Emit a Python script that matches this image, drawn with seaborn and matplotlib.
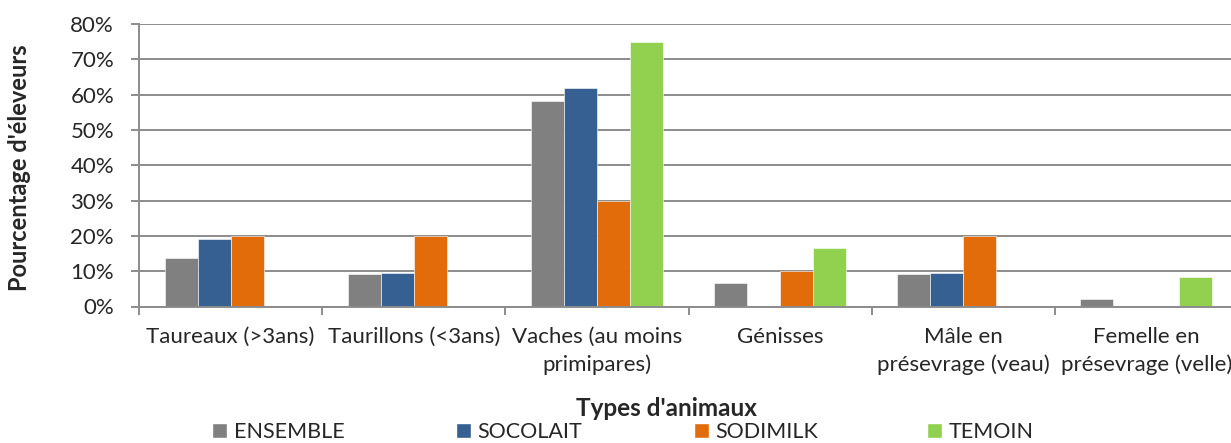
import matplotlib
matplotlib.use("Agg")
import matplotlib.pyplot as plt
import seaborn as sns
import pandas as pd
from matplotlib.ticker import PercentFormatter, FixedLocator
from matplotlib.patches import Patch

categories = [
    "Taureaux (>3ans)",
    "Taurillons (<3ans)",
    "Vaches (au moins\nprimipares)",
    "Génisses",
    "Mâle en\nprésevrage (veau)",
    "Femelle en\nprésevrage (velle)",
]
groups = ["ENSEMBLE", "SOCOLAIT", "SODIMILK", "TEMOIN"]
ensemble = [13.8, 9.2, 58.2, 6.7, 9.2, 2.1]
socolait = [19.0, 9.5, 61.9, 0.0, 9.5, 0.0]
sodimilk = [20.0, 20.0, 30.0, 10.0, 20.0, 0.0]
temoin = [0.0, 0.0, 75.0, 16.7, 0.0, 8.3]
colors = ["#808080", "#366092", "#E36C0A", "#92D050"]

rows = []
for g, vals in zip(groups, [ensemble, socolait, sodimilk, temoin]):
    for c, v in zip(categories, vals):
        rows.append({"cat": c, "grp": g, "val": v})
df = pd.DataFrame(rows)

sns.set_style("white")
plt.rcParams["font.family"] = ["Lato", "DejaVu Sans"]
grid_c = "#8c8c8c"

fig = plt.figure(figsize=(12.31, 4.43), dpi=100)
W, H = 1231, 443
x0, x1, ytop, ybot = 139, 1238, 24, 306.5
ax = fig.add_axes([x0 / W, 1 - ybot / H, (x1 - x0) / W, (ybot - ytop) / H])

sns.barplot(data=df, x="cat", y="val", hue="grp", order=categories,
            hue_order=groups, palette=colors, width=0.72, gap=0,
            saturation=1, ax=ax, legend=False, edgecolor="white", linewidth=0.4)

ax.set_xlim(-0.5, 5.5)
ax.set_ylim(0, 80)
ax.yaxis.set_major_locator(FixedLocator(range(0, 81, 10)))
ax.yaxis.set_major_formatter(PercentFormatter(decimals=0))
ax.grid(axis="y", color=grid_c, linewidth=1.4)
ax.set_axisbelow(True)
for s in ["top", "right"]:
    ax.spines[s].set_visible(False)
for s in ["left", "bottom"]:
    ax.spines[s].set_color(grid_c)
    ax.spines[s].set_linewidth(1.4)

ax.tick_params(axis="y", which="major", length=6, width=1.4, color=grid_c,
               labelsize=16, pad=12, left=True)
ax.tick_params(axis="x", which="major", length=0, labelsize=16, pad=15)
ax.set_xticks([i + 0.5 for i in range(-1, 6)], minor=True)
ax.tick_params(axis="x", which="minor", length=6, width=1.4, color=grid_c, bottom=True)
for lbl in ax.get_xticklabels():
    lbl.set_linespacing(1.4)
    lbl.set_horizontalalignment("center")

ax.set_xlabel("")
ax.set_ylabel("")
fig.text(666 / W, 1 - 408 / H, "Types d'animaux", ha="center", va="center",
         fontsize=17.5, fontweight="bold")
fig.text(20 / W, 1 - 168 / H, "Pourcentage d'éleveurs", ha="center", va="center",
         rotation=90, fontsize=17, fontweight="bold")

# one legend entry per group, each anchored at its own x position
legend_x = [212, 456, 694, 927]
for c, g, lx in zip(colors, groups, legend_x):
    leg = fig.legend(handles=[Patch(facecolor=c, label=g)], loc="center left",
                     bbox_to_anchor=(lx / W, 1 - 432 / H), frameon=False,
                     fontsize=15.5, handlelength=0.7, handleheight=0.7,
                     handletextpad=0.3, borderaxespad=0, borderpad=0)

fig.savefig("out.png", dpi=100)
